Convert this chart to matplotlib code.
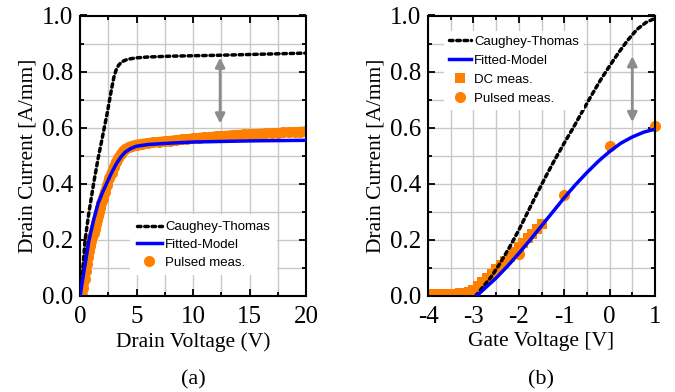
import matplotlib
matplotlib.use("Agg")
import matplotlib.pyplot as plt
from matplotlib.ticker import MultipleLocator

plt.rcParams['font.family'] = ['Liberation Serif', 'DejaVu Serif']
plt.rcParams['axes.unicode_minus'] = False

# ---------------- Data: panel (a) ----------------
vd_ct = [0, 0.2, 0.45, 0.8, 1.2, 1.6, 2.0, 2.4, 2.8, 3.0, 3.2, 3.4, 3.7, 4.2, 5, 6, 8, 12, 16, 20]
id_ct = [0, 0.07, 0.2, 0.3, 0.4, 0.49, 0.57, 0.65, 0.74, 0.78, 0.806, 0.822, 0.835, 0.844,
         0.849, 0.852, 0.855, 0.858, 0.862, 0.866]

vd_fit = [0, 0.4, 0.8, 1.2, 1.6, 2.0, 2.4, 2.8, 3.2, 3.6, 4.0, 4.5, 5, 6, 8, 10, 15, 20]
id_fit = [0, 0.1, 0.2, 0.27, 0.33, 0.37, 0.405, 0.44, 0.47, 0.495, 0.513, 0.526, 0.534, 0.54,
          0.545, 0.549, 0.553, 0.555]

vd_pulse = [0.2, 0.3, 0.4, 0.5, 0.6, 0.7, 0.8, 0.9, 1.0, 1.1, 1.2, 1.3, 1.4, 1.5, 1.6, 1.7, 1.8,
            1.9, 2.0, 2.2, 2.4, 2.6, 2.8, 3.0, 3.2, 3.4, 3.6, 3.8, 4.0, 4.3, 4.6, 5.0, 5.5, 6.0,
            6.5, 7.0, 7.5, 8.0, 8.5, 9.0, 9.5, 10, 10.5, 11, 11.5, 12, 12.5, 13, 13.5, 14, 14.5,
            15, 15.5, 16, 16.5, 17, 17.5, 18, 18.5, 19, 19.5, 20]
id_pulse = [0.0, 0.03, 0.06, 0.09, 0.115, 0.14, 0.16, 0.18, 0.195, 0.21, 0.225, 0.24, 0.255, 0.27,
            0.285, 0.3, 0.315, 0.33, 0.345, 0.37, 0.395, 0.42, 0.44, 0.46, 0.478, 0.493, 0.506,
            0.516, 0.524, 0.531, 0.536, 0.54, 0.543, 0.546, 0.548, 0.55, 0.552, 0.554, 0.556, 0.558,
            0.56, 0.562, 0.564, 0.566, 0.567, 0.569, 0.571, 0.572, 0.574, 0.575, 0.576, 0.577,
            0.578, 0.579, 0.58, 0.581, 0.582, 0.583, 0.584, 0.585, 0.586, 0.587]

# ---------------- Data: panel (b) ----------------
vg_ct = [-2.95, -2.8, -2.6, -2.4, -2.2, -2.0, -1.8, -1.6, -1.4, -1.2, -1.0, -0.8, -0.6, -0.4,
         -0.2, 0.0, 0.2, 0.4, 0.6, 0.8, 1.0]
ig_ct = [0.0, 0.03, 0.07, 0.12, 0.175, 0.235, 0.3, 0.365, 0.428, 0.488, 0.545, 0.6, 0.658, 0.715,
         0.77, 0.82, 0.868, 0.912, 0.95, 0.975, 0.99]

vg_fit = [-2.93, -2.75, -2.5, -2.25, -2.0, -1.75, -1.5, -1.25, -1.0, -0.75, -0.5, -0.25, 0.0,
          0.25, 0.5, 0.75, 1.0]
ig_fit = [0.0, 0.027, 0.064, 0.106, 0.152, 0.2, 0.25, 0.3, 0.35, 0.397, 0.44, 0.48, 0.515,
          0.545, 0.567, 0.584, 0.595]

vg_dc = [-4.0, -3.9, -3.8, -3.7, -3.6, -3.5, -3.4, -3.3, -3.2, -3.1, -3.0, -2.9, -2.8, -2.7,
         -2.6, -2.5, -2.4, -2.3, -2.2, -2.1, -2.0, -1.9, -1.8, -1.7, -1.6, -1.5]
ig_dc = [0.007, 0.007, 0.007, 0.007, 0.007, 0.007, 0.008, 0.009, 0.011, 0.015, 0.022, 0.035,
         0.05, 0.065, 0.08, 0.095, 0.11, 0.125, 0.14, 0.158, 0.175, 0.19, 0.205, 0.222, 0.24, 0.257]

vg_pulse = [-2.0, -1.0, 0.0, 1.0]
ig_pulse = [0.15, 0.36, 0.536, 0.606]

# arrows (x, top, bottom)
arrow_a = (12.4, 0.85, 0.615)
arrow_b = (0.5, 0.855, 0.62)

ORANGE = '#FF8000'
BLUE = '#0000FF'
GRAY = '#8C8C8C'

fig = plt.figure(figsize=(6.75, 3.92), dpi=100)
axa = fig.add_axes([80/675, 1-296/392, 226/675, 280.5/392])
axb = fig.add_axes([428/675, 1-296/392, 227/675, 280.5/392])

dot = (0, (1, 1.1))
leg_font = {'family': ['Liberation Sans', 'DejaVu Sans'], 'size': 9.5}


def style(ax):
    ax.grid(True, which='both', color='#c8c8c8', lw=1.0, zorder=0)
    ax.set_axisbelow(True)
    ax.tick_params(which='both', direction='in', top=True, right=True, labelsize=18,
                   width=1.3, colors='black')
    ax.tick_params(axis='x', which='both', pad=7)
    ax.tick_params(axis='y', which='both', pad=5)
    ax.tick_params(which='major', length=5)
    ax.tick_params(which='minor', length=3)
    for s in ax.spines.values():
        s.set_linewidth(1.5)
    ax.set_ylim(0, 1.0)
    ax.yaxis.set_major_locator(MultipleLocator(0.2))
    ax.yaxis.set_minor_locator(MultipleLocator(0.1))
    ax.yaxis.set_major_formatter(matplotlib.ticker.FormatStrFormatter('%.1f'))
    ax.set_ylabel('Drain Current [A/mm]', fontsize=15.5, labelpad=3)


# ---- panel (a)
style(axa)
axa.set_xlim(0, 20)
axa.xaxis.set_major_locator(MultipleLocator(5))
axa.xaxis.set_minor_locator(MultipleLocator(2.5))
axa.plot(vd_pulse, id_pulse, '-', color=ORANGE, lw=7, solid_capstyle='round', zorder=2)
axa.plot(vd_pulse, id_pulse, 'o', color=ORANGE, ms=8, mew=0, zorder=2, label='Pulsed meas.')
axa.plot(vd_ct, id_ct, color='black', lw=2.5, ls=dot, dash_capstyle='round', zorder=3,
         label='Caughey-Thomas')
axa.plot(vd_fit, id_fit, color=BLUE, lw=2.5, zorder=4, label='Fitted-Model')
axa.annotate('', xy=(arrow_a[0], arrow_a[1]), xytext=(arrow_a[0], arrow_a[2]),
             arrowprops=dict(arrowstyle='<|-|>', color=GRAY, lw=2, mutation_scale=14,
                             shrinkA=0, shrinkB=0), zorder=5)
axa.set_xlabel('Drain Voltage (V)', fontsize=15.5, labelpad=3)
h, l = axa.get_legend_handles_labels()
order = [l.index('Caughey-Thomas'), l.index('Fitted-Model'), l.index('Pulsed meas.')]
axa.legend([h[i] for i in order], [l[i] for i in order], loc='lower right',
           bbox_to_anchor=(0.9, 0.05), frameon=True, fancybox=False, edgecolor='none',
           facecolor='white', framealpha=1, prop=leg_font, handlelength=1.9,
           handletextpad=0.25, labelspacing=0.42, borderpad=0.5)

# ---- panel (b)
style(axb)
axb.set_xlim(-4, 1)
axb.xaxis.set_major_locator(MultipleLocator(1))
axb.xaxis.set_minor_locator(MultipleLocator(0.5))
axb.plot(vg_dc, ig_dc, 's', color=ORANGE, ms=6.5, mew=0, zorder=2, label='DC meas.')
axb.plot(vg_pulse, ig_pulse, 'o', color=ORANGE, ms=8, mew=0, zorder=2, label='Pulsed meas.',
         clip_on=False)
axb.plot(vg_ct, ig_ct, color='black', lw=2.5, ls=dot, dash_capstyle='round', zorder=3,
         label='Caughey-Thomas')
axb.plot(vg_fit, ig_fit, color=BLUE, lw=2.5, zorder=4, label='Fitted-Model')
axb.annotate('', xy=(arrow_b[0], arrow_b[1]), xytext=(arrow_b[0], arrow_b[2]),
             arrowprops=dict(arrowstyle='<|-|>', color=GRAY, lw=2, mutation_scale=14,
                             shrinkA=0, shrinkB=0), zorder=5)
axb.set_xlabel('Gate Voltage [V]', fontsize=15.5, labelpad=3)
h, l = axb.get_legend_handles_labels()
order = [l.index('Caughey-Thomas'), l.index('Fitted-Model'), l.index('DC meas.'),
         l.index('Pulsed meas.')]
axb.legend([h[i] for i in order], [l[i] for i in order], loc='upper left',
           bbox_to_anchor=(0.04, 0.97), frameon=True, fancybox=False, edgecolor='none',
           facecolor='white', framealpha=1, prop=leg_font, handlelength=1.65,
           handletextpad=0.25, labelspacing=0.5, borderpad=0.4)

fig.text(193/675, 1-380/392, '(a)', ha='center', va='center', fontsize=16)
fig.text(541/675, 1-380/392, '(b)', ha='center', va='center', fontsize=16)

fig.savefig('out.png', dpi=100)
